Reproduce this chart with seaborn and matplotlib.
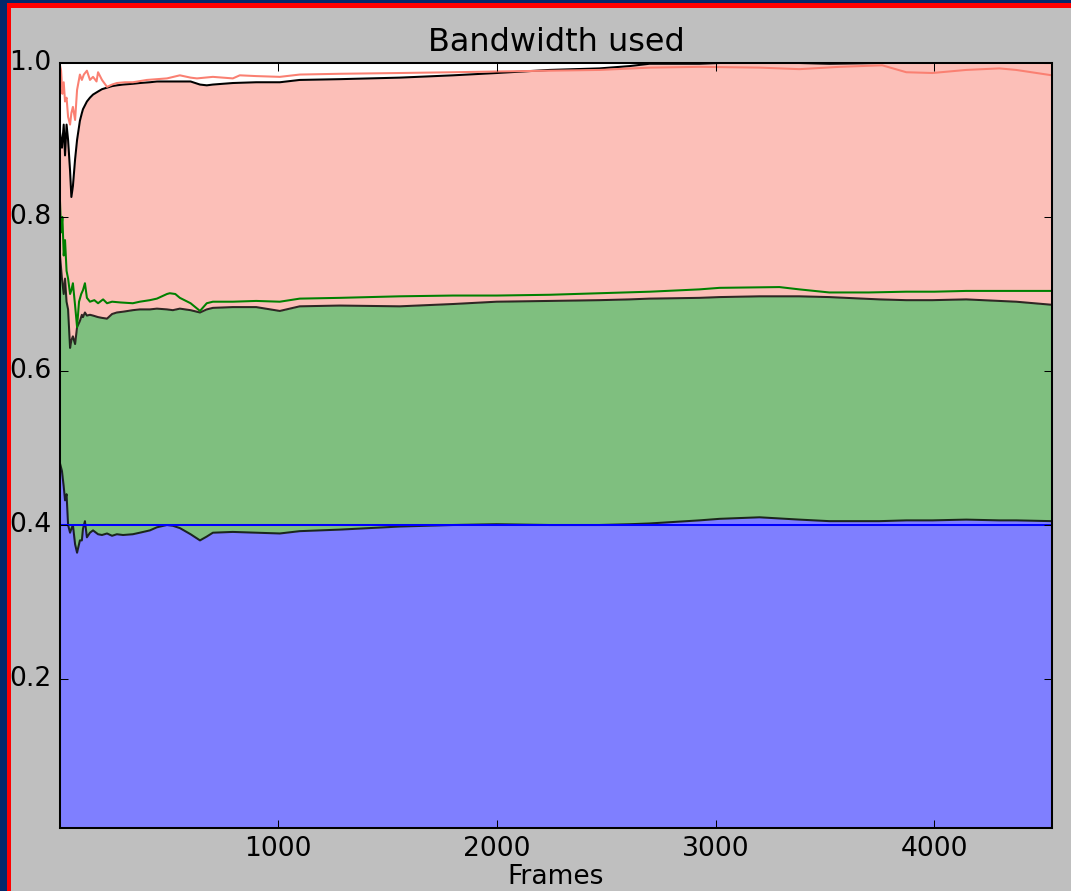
import numpy as np
import pandas as pd
import matplotlib
matplotlib.use("Agg")
import matplotlib.pyplot as plt
from matplotlib.patches import Rectangle
import seaborn as sns

# ---------------- data ----------------
frames = [3, 12, 20, 26, 33, 40, 49, 55, 62, 72, 81, 94, 103, 108, 117, 126, 140,
          154, 177, 195, 218, 241, 263, 291, 336, 368, 414, 446, 492, 519, 551,
          600, 643, 674, 702, 793, 900, 1008, 1099, 1282, 1556, 1800, 1999, 2241,
          2470, 2607, 2698, 2926, 3018, 3201, 3383, 3520, 3749, 3872, 3991, 4146,
          4297, 4374, 4538]

blue_used = [0.48, 0.47, 0.45, 0.432, 0.44, 0.40, 0.39, 0.395, 0.40, 0.375, 0.364,
             0.38, 0.38, 0.395, 0.405, 0.384, 0.39, 0.393, 0.388, 0.387, 0.389,
             0.386, 0.388, 0.387, 0.388, 0.390, 0.393, 0.397, 0.400, 0.399, 0.396,
             0.388, 0.380, 0.385, 0.390, 0.391, 0.390, 0.389, 0.392, 0.394, 0.398,
             0.400, 0.401, 0.400, 0.400, 0.401, 0.402, 0.406, 0.408, 0.410, 0.407,
             0.405, 0.405, 0.406, 0.406, 0.407, 0.406, 0.406, 0.405]

green_used = [0.75, 0.72, 0.70, 0.72, 0.69, 0.68, 0.63, 0.64, 0.645, 0.635, 0.657,
              0.665, 0.673, 0.670, 0.676, 0.672, 0.673, 0.672, 0.670, 0.669, 0.668,
              0.674, 0.676, 0.677, 0.679, 0.680, 0.680, 0.681, 0.680, 0.679, 0.681,
              0.679, 0.676, 0.680, 0.682, 0.683, 0.683, 0.678, 0.684, 0.685, 0.684,
              0.687, 0.690, 0.691, 0.692, 0.693, 0.694, 0.695, 0.696, 0.697, 0.697,
              0.696, 0.693, 0.692, 0.692, 0.693, 0.691, 0.690, 0.686]

salmon_used = [0.91, 0.89, 0.92, 0.88, 0.92, 0.90, 0.86, 0.826, 0.84, 0.875, 0.90,
               0.925, 0.935, 0.94, 0.945, 0.95, 0.955, 0.959, 0.963, 0.966, 0.968,
               0.970, 0.971, 0.972, 0.973, 0.974, 0.975, 0.976, 0.976, 0.976, 0.976,
               0.976, 0.972, 0.971, 0.972, 0.974, 0.975, 0.975, 0.978, 0.979, 0.981,
               0.984, 0.987, 0.991, 0.993, 0.996, 0.999, 0.999, 1.0, 1.0, 1.0,
               0.999, 1.0, 1.004, 1.004, 1.004, 1.004, 1.004, 1.004]

blue_target = 0.4

green_frames = [3, 8, 14, 20, 26, 33, 40, 49, 55, 62, 72, 81, 90, 100, 108, 117, 126,
                140, 160, 177, 200, 218, 241, 280, 336, 368, 414, 446, 492, 505, 530,
                551, 600, 643, 674, 702, 793, 900, 1008, 1099, 1282, 1556, 1800, 2000,
                2241, 2470, 2700, 2926, 3018, 3292, 3383, 3520, 3700, 3872, 4000, 4146,
                4374, 4538]
green_target = [0.82, 0.78, 0.80, 0.75, 0.77, 0.73, 0.72, 0.70, 0.705, 0.714, 0.685,
                0.657, 0.69, 0.70, 0.705, 0.714, 0.695, 0.690, 0.692, 0.688, 0.693,
                0.688, 0.690, 0.689, 0.688, 0.690, 0.692, 0.694, 0.700, 0.701, 0.700,
                0.695, 0.688, 0.678, 0.688, 0.690, 0.690, 0.691, 0.690, 0.694, 0.695,
                0.697, 0.698, 0.698, 0.699, 0.701, 0.703, 0.706, 0.708, 0.709, 0.706,
                0.702, 0.702, 0.703, 0.703, 0.704, 0.704, 0.704]

salmon_frames = [3, 8, 14, 20, 26, 33, 40, 49, 55, 62, 72, 81, 94, 103, 112, 126, 140,
                 154, 170, 177, 195, 218, 241, 263, 300, 336, 400, 446, 492, 551, 600,
                 629, 702, 793, 825, 900, 1008, 1099, 1282, 1556, 1800, 1999, 2241,
                 2470, 2700, 2926, 3201, 3383, 3566, 3762, 3872, 3991, 4146, 4297,
                 4374, 4538]
salmon_target = [0.997, 0.99, 0.96, 0.975, 0.95, 0.955, 0.93, 0.92, 0.935, 0.943,
                 0.926, 0.965, 0.985, 0.978, 0.985, 0.99, 0.978, 0.982, 0.976, 0.988,
                 0.978, 0.969, 0.972, 0.974, 0.975, 0.975, 0.978, 0.979, 0.980, 0.984,
                 0.981, 0.980, 0.982, 0.980, 0.984, 0.983, 0.982, 0.985, 0.986, 0.987,
                 0.988, 0.989, 0.990, 0.991, 0.994, 0.995, 0.994, 0.992, 0.995, 0.997,
                 0.988, 0.987, 0.991, 0.993, 0.991, 0.984]

x_ticks = [1000, 2000, 3000, 4000]
y_ticks = [0.2, 0.4, 0.6, 0.8, 1.0]
title = "Bandwidth used"
xlabel = "Frames"

# ---------------- figure ----------------
plt.style.use("classic")
plt.rcParams["font.family"] = ["DejaVu Sans"]
plt.rcParams["font.size"] = 13
W, H, DPI = 1071, 891, 147
BG = "#bfbfbf"
fig, ax = plt.subplots(figsize=(W / DPI, H / DPI), dpi=DPI)
fig.patch.set_facecolor(BG)
fig.subplots_adjust(left=60 / W, right=1052 / W, top=1 - 63 / H, bottom=1 - 828 / H)

base = np.zeros(len(frames))
ax.fill_between(frames, base, blue_used, color="b", alpha=0.5, linewidth=0)
ax.fill_between(frames, blue_used, green_used, color="g", alpha=0.5, linewidth=0)
ax.fill_between(frames, green_used, salmon_used, color="salmon", alpha=0.5, linewidth=0)

used = pd.DataFrame({"frame": frames, "blue": blue_used,
                     "green": green_used, "salmon": salmon_used})
for col, a in [("blue", 0.8), ("green", 0.8), ("salmon", 1.0)]:
    sns.lineplot(data=used, x="frame", y=col, color="k", alpha=a, linewidth=1.0,
                 estimator=None, sort=False, legend=False, ax=ax)

sns.lineplot(x=[frames[0], frames[-1]], y=[blue_target, blue_target], color="b",
             linewidth=1.0, estimator=None, legend=False, ax=ax)
sns.lineplot(x=green_frames, y=green_target, color="g", linewidth=1.0,
             estimator=None, sort=False, legend=False, ax=ax)
sns.lineplot(x=salmon_frames, y=salmon_target, color="salmon", linewidth=1.0,
             estimator=None, sort=False, legend=False, ax=ax)

ax.set_xlim(frames[0], frames[-1])
ax.set_ylim(0.0065, 1.0)
ax.set_xticks(x_ticks)
ax.set_yticks(y_ticks)
ax.set_xlabel(xlabel, labelpad=1)
ax.set_ylabel("")
ax.set_title(title, fontsize=15.6, pad=6)

# screenshot frame (top and left edges)
navy = "#03296b"
fig.add_artist(Rectangle((0, 0), 7 / W, 1, transform=fig.transFigure,
                         facecolor=navy, edgecolor="none", zorder=10))
fig.add_artist(Rectangle((0, 1 - 3.3 / H), 1, 3.3 / H, transform=fig.transFigure,
                         facecolor=navy, edgecolor="none", zorder=10))
fig.add_artist(Rectangle((7 / W, 0), 4 / W, 1 - 3.3 / H, transform=fig.transFigure,
                         facecolor="red", edgecolor="none", zorder=10))
fig.add_artist(Rectangle((7 / W, 1 - 7.5 / H), 1, 4.2 / H, transform=fig.transFigure,
                         facecolor="red", edgecolor="none", zorder=10))

fig.savefig("out.png", dpi=DPI, facecolor=BG)
